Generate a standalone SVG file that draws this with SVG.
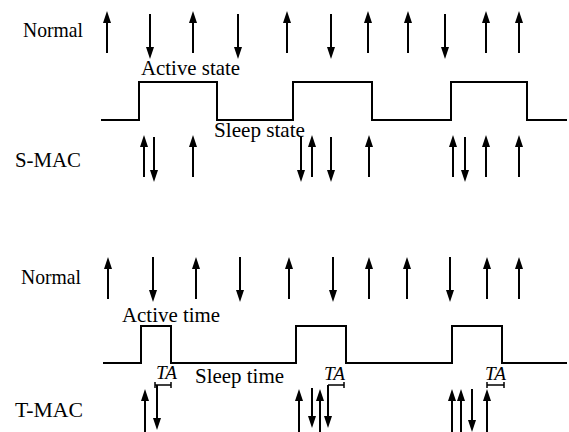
<svg xmlns="http://www.w3.org/2000/svg" width="569" height="432" viewBox="0 0 569 432">
<style>
.t{font-family:"Liberation Serif","Times New Roman",serif;font-size:21px;fill:#000}
.ta{font-family:"Liberation Serif","Times New Roman",serif;font-size:19px;font-style:italic;fill:#000}
.a{stroke:#000;stroke-width:2;fill:none;marker-end:url(#h)}
.w{stroke:#000;stroke-width:2;fill:none}
.b{stroke:#000;stroke-width:1.5;fill:none}
</style>
<defs>
<marker id="h" markerUnits="userSpaceOnUse" markerWidth="12" markerHeight="8" refX="0" refY="4" orient="auto" overflow="visible">
<path d="M0,0 L12,4 L0,8 z" fill="#000"/>
</marker>
</defs>
<rect width="569" height="432" fill="#fff"/>
<g id="labels">
<text class="t" x="23" y="37" textLength="60" lengthAdjust="spacingAndGlyphs">Normal</text>
<text class="t" x="15" y="167" textLength="66" lengthAdjust="spacingAndGlyphs">S-MAC</text>
<text class="t" x="21" y="284" textLength="60" lengthAdjust="spacingAndGlyphs">Normal</text>
<text class="t" x="15" y="417" textLength="68" lengthAdjust="spacingAndGlyphs">T-MAC</text>
<text class="t" x="141" y="75" textLength="99" lengthAdjust="spacingAndGlyphs">Active state</text>
<text class="t" x="214" y="137" textLength="91" lengthAdjust="spacingAndGlyphs">Sleep state</text>
<text class="t" x="122" y="322" textLength="98" lengthAdjust="spacingAndGlyphs">Active time</text>
<text class="t" x="195" y="383" textLength="89" lengthAdjust="spacingAndGlyphs">Sleep time</text>
<text class="ta" x="156" y="379" textLength="21" lengthAdjust="spacingAndGlyphs">TA</text>
<text class="ta" x="324" y="380" textLength="21" lengthAdjust="spacingAndGlyphs">TA</text>
<text class="ta" x="485" y="380" textLength="21" lengthAdjust="spacingAndGlyphs">TA</text>
</g>
<g id="waves">
<path class="w" d="M101,120 H139 V82 H217 V120 H293 V82 H372 V120 H451 V82 H527 V120 H567"/>
<path class="w" d="M103,363 H141 V326 H171 V363 H296 V326 H346 V363 H452 V326 H502 V363 H567"/>
</g>
<g id="ta-bars">
<path class="b" d="M155,385 H171 M171,382 V388 M155,382 V388"/>
<path class="b" d="M328,385 H344 M344,382 V388"/>
<path class="b" d="M487,385 H504 M504,382 V388 M487,382 V388"/>
</g>
<g id="normal-top">
<line class="a" x1="107" y1="53" x2="107" y2="23"/>
<line class="a" x1="150" y1="14" x2="150" y2="47"/>
<line class="a" x1="193" y1="53" x2="193" y2="23"/>
<line class="a" x1="238" y1="14" x2="238" y2="47"/>
<line class="a" x1="287" y1="53" x2="287" y2="23"/>
<line class="a" x1="331" y1="14" x2="331" y2="47"/>
<line class="a" x1="368" y1="53" x2="368" y2="23"/>
<line class="a" x1="408" y1="53" x2="408" y2="23"/>
<line class="a" x1="445" y1="14" x2="445" y2="47"/>
<line class="a" x1="486" y1="53" x2="486" y2="23"/>
<line class="a" x1="519" y1="53" x2="519" y2="23"/>
</g>
<g id="smac">
<line class="a" x1="144" y1="177" x2="144" y2="147"/>
<line class="a" x1="154" y1="137" x2="154" y2="170"/>
<line class="a" x1="193" y1="177" x2="193" y2="147"/>
<line class="a" x1="301" y1="137" x2="301" y2="170"/>
<line class="a" x1="312" y1="177" x2="312" y2="147"/>
<line class="a" x1="331" y1="137" x2="331" y2="170"/>
<line class="a" x1="369" y1="177" x2="369" y2="147"/>
<line class="a" x1="453" y1="177" x2="453" y2="147"/>
<line class="a" x1="465" y1="137" x2="465" y2="170"/>
<line class="a" x1="486" y1="177" x2="486" y2="147"/>
<line class="a" x1="519" y1="177" x2="519" y2="147"/>
</g>
<g id="normal-bottom">
<line class="a" x1="108" y1="299" x2="108" y2="269"/>
<line class="a" x1="153" y1="257" x2="153" y2="290"/>
<line class="a" x1="196" y1="299" x2="196" y2="269"/>
<line class="a" x1="240" y1="257" x2="240" y2="290"/>
<line class="a" x1="289" y1="299" x2="289" y2="269"/>
<line class="a" x1="333" y1="257" x2="333" y2="290"/>
<line class="a" x1="369" y1="299" x2="369" y2="269"/>
<line class="a" x1="407" y1="299" x2="407" y2="269"/>
<line class="a" x1="450" y1="257" x2="450" y2="290"/>
<line class="a" x1="487" y1="299" x2="487" y2="269"/>
<line class="a" x1="519" y1="299" x2="519" y2="269"/>
</g>
<g id="tmac">
<line class="a" x1="145" y1="432" x2="145" y2="401"/>
<line class="a" x1="157" y1="385" x2="157" y2="418"/>
<line class="a" x1="299" y1="432" x2="299" y2="401"/>
<line class="a" x1="312" y1="388" x2="312" y2="416"/>
<line class="a" x1="320" y1="432" x2="320" y2="401"/>
<line class="a" x1="328" y1="385" x2="328" y2="416"/>
<line class="a" x1="452" y1="432" x2="452" y2="401"/>
<line class="a" x1="461" y1="432" x2="461" y2="401"/>
<line class="a" x1="472" y1="389" x2="472" y2="420"/>
<line class="a" x1="487" y1="432" x2="487" y2="401"/>
</g>
</svg>
